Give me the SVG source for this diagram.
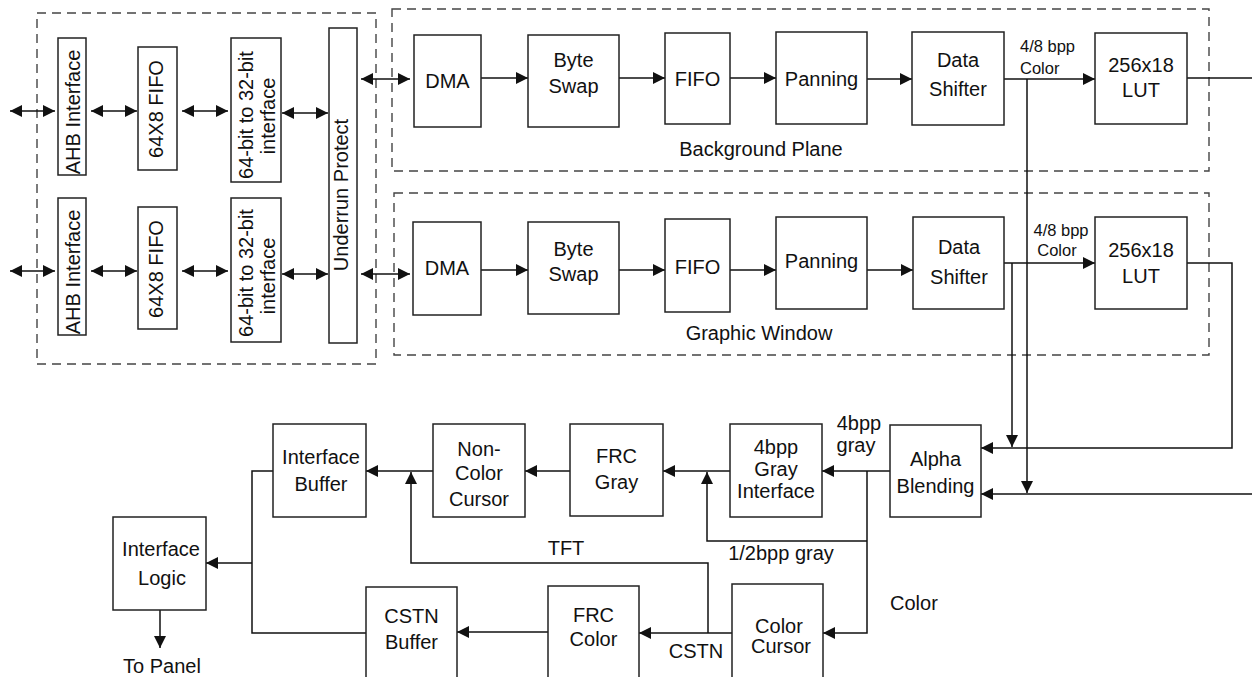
<svg xmlns="http://www.w3.org/2000/svg" width="1252" height="677" viewBox="0 0 1252 677">
<style>
.b{fill:#fff;stroke:#222;stroke-width:1.5}
.d{fill:none;stroke:#444;stroke-width:1.4;stroke-dasharray:9 6}
.c{fill:none;stroke:#111;stroke-width:1.5}
.t{font-family:"Liberation Sans",Arial,sans-serif;font-size:20px;fill:#111;text-anchor:middle}
.s{font-size:16.5px}
.l{text-anchor:start}
</style>
<defs>
<marker id="a" viewBox="0 0 12 12" refX="12" refY="6" markerWidth="12" markerHeight="12" markerUnits="userSpaceOnUse" orient="auto-start-reverse">
<path d="M0,0 L12,6 L0,12 z" fill="#111"/>
</marker>
</defs>
<rect width="1252" height="677" fill="#fff"/>
<g id="frames">
<rect class="d" x="37" y="13" width="339" height="351"/>
<rect class="d" x="392" y="9" width="817" height="162"/>
<rect class="d" x="394" y="193" width="815" height="162"/>
<text class="t" x="761" y="156">Background Plane</text>
<text class="t" x="759" y="340">Graphic Window</text>
</g>
<g id="connectors">
<g marker-start="url(#a)" marker-end="url(#a)">
<path class="c" d="M10,111 H55"/>
<path class="c" d="M91,111 H137"/>
<path class="c" d="M182,111 H228"/>
<path class="c" d="M282,113 H328"/>
<path class="c" d="M10,271 H55"/>
<path class="c" d="M91,271 H137"/>
<path class="c" d="M182,271 H228"/>
<path class="c" d="M282,274 H328"/>
<path class="c" d="M361,79 H410"/>
<path class="c" d="M361,274 H410"/>
</g>
<g marker-end="url(#a)">
<path class="c" d="M481,78 H528"/>
<path class="c" d="M619,78 H665"/>
<path class="c" d="M730,78 H776"/>
<path class="c" d="M867,79 H912"/>
<path class="c" d="M1004,79 H1095"/>
<path class="c" d="M1027,79 V493"/>
<path class="c" d="M481,270 H528"/>
<path class="c" d="M619,270 H665"/>
<path class="c" d="M730,270 H776"/>
<path class="c" d="M867,270 H913"/>
<path class="c" d="M1004,263 H1095"/>
<path class="c" d="M1012,263 V447"/>
<path class="c" d="M1187,263 H1232 V448 H981"/>
<path class="c" d="M1252,494 H981"/>
<path class="c" d="M890,471 H822"/>
<path class="c" d="M867,471 V633 H823"/>
<path class="c" d="M867,541 H707 V472"/>
<path class="c" d="M730,471 H663"/>
<path class="c" d="M570,471 H525"/>
<path class="c" d="M433,471 H366"/>
<path class="c" d="M708,633 V563 H411 V472"/>
<path class="c" d="M732,633 H639"/>
<path class="c" d="M548,632 H457"/>
<path class="c" d="M252,563 H206"/>
<path class="c" d="M160,610 V648"/>
</g>
<path class="c" d="M1187,78 H1252"/>
<path class="c" d="M366,633 H252 V471 H273"/>
<text class="t s l" x="1020" y="52">4/8 bpp</text>
<text class="t s l" x="1020" y="74">Color</text>
<text class="t s" x="1061" y="236">4/8 bpp</text>
<text class="t s" x="1057" y="256">Color</text>
<text class="t" x="859" y="430">4bpp</text>
<text class="t" x="856" y="452">gray</text>
<text class="t" x="781" y="560">1/2bpp gray</text>
<text class="t" x="566" y="555">TFT</text>
<text class="t l" x="890" y="610">Color</text>
<text class="t" x="696" y="658">CSTN</text>
<text class="t" x="162" y="673">To Panel</text>
</g>
<g id="ahb1"><rect class="b" x="58" y="38" width="28" height="137"/><text class="t" transform="translate(80,112) rotate(-90)">AHB Interface</text></g>
<g id="fifo64a"><rect class="b" x="138" y="47" width="39" height="123"/><text class="t" transform="translate(163,109) rotate(-90)">64X8 FIFO</text></g>
<g id="conv1"><rect class="b" x="231" y="38" width="50" height="144"/><text class="t" transform="translate(253,115) rotate(-90)">64-bit to 32-bit</text><text class="t" transform="translate(275,116) rotate(-90)">interface</text></g>
<g id="ahb2"><rect class="b" x="58" y="198" width="28" height="137"/><text class="t" transform="translate(80,272) rotate(-90)">AHB Interface</text></g>
<g id="fifo64b"><rect class="b" x="138" y="207" width="39" height="122"/><text class="t" transform="translate(163,269) rotate(-90)">64X8 FIFO</text></g>
<g id="conv2"><rect class="b" x="231" y="198" width="50" height="144"/><text class="t" transform="translate(253,273) rotate(-90)">64-bit to 32-bit</text><text class="t" transform="translate(275,276) rotate(-90)">interface</text></g>
<g id="underrun"><rect class="b" x="329" y="28" width="28" height="315"/><text class="t" transform="translate(348,195) rotate(-90)">Underrun Protect</text></g>
<g id="dma1"><rect class="b" x="414" y="35" width="67" height="92"/><text class="t" x="447.5" y="88">DMA</text></g>
<g id="bswap1"><rect class="b" x="528" y="35" width="91" height="92"/><text class="t" x="573.5" y="67">Byte</text><text class="t" x="573.5" y="93">Swap</text></g>
<g id="fifo1"><rect class="b" x="665" y="33" width="65" height="91"/><text class="t" x="697.5" y="86">FIFO</text></g>
<g id="pan1"><rect class="b" x="776" y="32" width="91" height="92"/><text class="t" x="821.5" y="86">Panning</text></g>
<g id="ds1"><rect class="b" x="912" y="32" width="92" height="93"/><text class="t" x="958" y="67">Data</text><text class="t" x="958" y="96">Shifter</text></g>
<g id="lut1"><rect class="b" x="1095" y="33" width="92" height="91"/><text class="t" x="1141" y="72">256x18</text><text class="t" x="1141" y="97">LUT</text></g>
<g id="dma2"><rect class="b" x="413" y="222" width="68" height="93"/><text class="t" x="447" y="275">DMA</text></g>
<g id="bswap2"><rect class="b" x="528" y="222" width="91" height="92"/><text class="t" x="573.5" y="256">Byte</text><text class="t" x="573.5" y="281">Swap</text></g>
<g id="fifo2"><rect class="b" x="665" y="219" width="65" height="93"/><text class="t" x="697.5" y="274">FIFO</text></g>
<g id="pan2"><rect class="b" x="776" y="217" width="91" height="92"/><text class="t" x="821.5" y="268">Panning</text></g>
<g id="ds2"><rect class="b" x="913" y="217" width="91" height="92"/><text class="t" x="959" y="254">Data</text><text class="t" x="959" y="284">Shifter</text></g>
<g id="lut2"><rect class="b" x="1095" y="217" width="92" height="92"/><text class="t" x="1141" y="257">256x18</text><text class="t" x="1141" y="283">LUT</text></g>
<g id="alpha"><rect class="b" x="890" y="425" width="91" height="92"/><text class="t" x="935.5" y="466">Alpha</text><text class="t" x="935.5" y="493">Blending</text></g>
<g id="gray4"><rect class="b" x="730" y="424" width="92" height="93"/><text class="t" x="776" y="454">4bpp</text><text class="t" x="776" y="476">Gray</text><text class="t" x="776" y="498">Interface</text></g>
<g id="frcgray"><rect class="b" x="570" y="424" width="93" height="92"/><text class="t" x="616.5" y="463">FRC</text><text class="t" x="616.5" y="489">Gray</text></g>
<g id="noncolor"><rect class="b" x="433" y="424" width="92" height="93"/><text class="t" x="479" y="456">Non-</text><text class="t" x="479" y="480">Color</text><text class="t" x="479" y="506">Cursor</text></g>
<g id="ifbuf"><rect class="b" x="273" y="424" width="93" height="93"/><text class="t" x="321" y="464">Interface</text><text class="t" x="321" y="491">Buffer</text></g>
<g id="iflogic"><rect class="b" x="113" y="517" width="93" height="93"/><text class="t" x="161" y="556">Interface</text><text class="t" x="162" y="585">Logic</text></g>
<g id="ccursor"><rect class="b" x="732" y="584" width="91" height="100"/><text class="t" x="779" y="633">Color</text><text class="t" x="781" y="653">Cursor</text></g>
<g id="frccolor"><rect class="b" x="548" y="586" width="91" height="100"/><text class="t" x="593.5" y="622">FRC</text><text class="t" x="593.5" y="646">Color</text></g>
<g id="cstnbuf"><rect class="b" x="366" y="587" width="91" height="100"/><text class="t" x="411.5" y="623">CSTN</text><text class="t" x="411.5" y="649">Buffer</text></g>
</svg>
